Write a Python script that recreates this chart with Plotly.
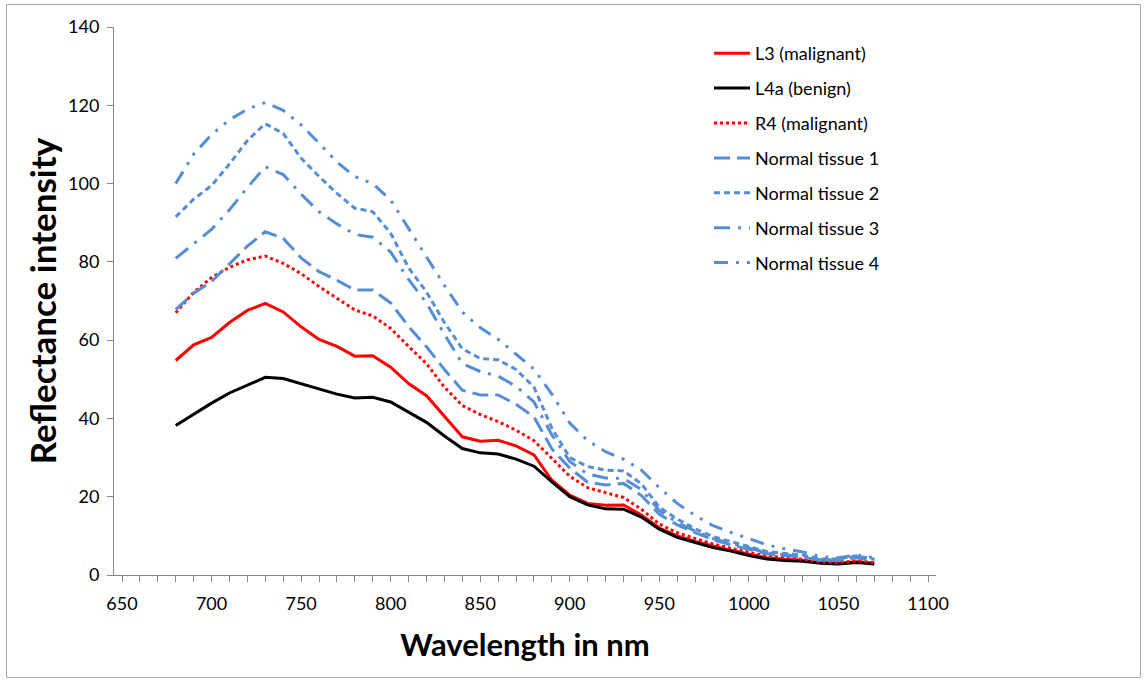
import plotly.graph_objects as go

wavelength = list(range(680, 1071, 10))

l3_malignant = [54.8, 58.8, 60.7, 64.5, 67.6, 69.4, 67.2, 63.4, 60.2, 58.4, 55.9, 56.0, 53.1, 48.9, 45.8, 40.5,
                35.3, 34.2, 34.4, 33.0, 30.7, 24.2, 20.4, 18.3, 17.8, 17.9, 15.3, 12.0, 10.0, 8.6, 7.4, 6.3,
                5.3, 4.4, 4.0, 3.8, 3.2, 3.0, 3.4, 3.0]
l4a_benign = [38.2, 41.1, 43.9, 46.5, 48.5, 50.5, 50.2, 48.8, 47.5, 46.2, 45.2, 45.4, 44.2, 41.6, 39.0, 35.5,
              32.3, 31.2, 30.9, 29.6, 27.8, 23.8, 20.0, 17.9, 16.9, 16.8, 14.8, 11.7, 9.6, 8.3, 7.0, 6.1,
              5.0, 4.1, 3.7, 3.5, 3.0, 2.8, 3.2, 2.8]
r4_malignant = [67.0, 72.2, 76.0, 78.6, 80.5, 81.5, 79.6, 77.0, 73.7, 70.7, 67.7, 66.2, 63.0, 58.4, 54.0, 48.0,
                43.3, 41.0, 39.2, 37.0, 34.3, 29.8, 25.2, 22.3, 21.0, 19.8, 16.8, 13.0, 10.8, 9.3, 7.9, 6.8,
                5.8, 4.8, 4.5, 4.0, 3.3, 3.2, 3.6, 3.2]
normal_1 = [67.8, 72.0, 75.0, 79.5, 84.0, 87.7, 86.0, 81.0, 77.5, 75.3, 72.8, 72.8, 69.5, 63.5, 58.3, 52.5,
            47.2, 46.0, 46.0, 43.6, 40.4, 32.2, 27.3, 23.7, 23.0, 23.4, 20.3, 15.5, 12.8, 10.8, 9.0, 7.7,
            6.6, 5.4, 5.0, 4.6, 3.7, 3.8, 4.4, 3.7]
normal_2 = [91.5, 96.0, 99.5, 105.0, 111.0, 115.3, 112.8, 106.5, 101.8, 97.5, 93.7, 92.8, 87.3, 78.5, 72.3, 64.5,
            57.8, 55.3, 55.0, 52.5, 48.0, 37.5, 30.0, 27.7, 26.8, 26.6, 23.3, 17.3, 14.3, 11.8, 9.8, 8.5,
            7.2, 6.0, 5.5, 5.1, 4.1, 4.1, 4.9, 4.1]
normal_3 = [80.9, 84.6, 88.3, 93.3, 99.0, 104.3, 102.3, 97.3, 92.8, 89.7, 87.0, 86.3, 82.5, 75.5, 69.5, 61.5,
            54.0, 52.0, 50.8, 48.2, 44.2, 35.8, 29.0, 25.8, 24.8, 24.7, 21.8, 16.5, 13.4, 11.2, 9.3, 8.1,
            6.9, 5.7, 5.2, 4.8, 3.9, 3.9, 4.6, 3.9]
normal_4 = [100.0, 107.5, 112.5, 116.3, 119.0, 120.7, 118.7, 115.0, 110.3, 105.5, 101.8, 100.0, 95.8, 88.5, 81.5, 74.0,
            67.2, 63.2, 60.2, 56.5, 52.6, 46.2, 38.8, 34.3, 31.5, 29.6, 26.8, 22.3, 18.3, 15.2, 12.6, 10.9,
            9.3, 7.7, 6.7, 5.9, 4.7, 4.4, 5.1, 4.4]

series_names = ["L3 (malignant)", "L4a (benign)", "R4 (malignant)",
                "Normal tissue 1", "Normal tissue 2", "Normal tissue 3", "Normal tissue 4"]
series_values = [l3_malignant, l4a_benign, r4_malignant, normal_1, normal_2, normal_3, normal_4]
series_colors = ["#FF0000", "#000000", "#FF0000", "#558ED5", "#558ED5", "#558ED5", "#558ED5"]
series_dash = ["solid", "solid", "dot", "16px,7px", "6px,4px", "16px,8px,3px,8px", "14px,8px,3px,8px,3px,8px"]

fig = go.Figure()
for i, (name, vals, col, dash) in enumerate(zip(series_names, series_values, series_colors, series_dash)):
    fig.add_trace(go.Scatter(
        x=wavelength, y=vals, mode="lines", name=name,
        line=dict(color=col, width=3, dash=dash),
        legendgroup=f"g{i}",
    ))

# Screen pixel layout (body margin removed in the page)
W, H = 1146, 681
L, R, T, B = 114, 936, 27, 575
px_per_nm = (928 - 122) / 450.0
xmin = 650 - (122 - L) / px_per_nm
xmax = 1100 + (R - 928) / px_per_nm

def px_x(p):
    return (p - L) / (R - L)

def px_y(p):
    return (B - p) / (B - T)

fig.add_shape(type="rect", xref="paper", yref="paper",
              x0=px_x(6.5), x1=px_x(1140.5), y0=px_y(677.5), y1=px_y(4.5),
              line=dict(color="#A6A6A6", width=1), fillcolor="rgba(0,0,0,0)", layer="below")

font_family = "Lato, 'Open Sans', sans-serif"

fig.update_layout(
    width=W, height=H,
    margin=dict(l=L, r=W - R, t=T, b=H - B, pad=0),
    paper_bgcolor="white", plot_bgcolor="white",
    font=dict(family=font_family, color="#000000", size=18),
    showlegend=True,
    legend=dict(
        x=px_x(709), y=px_y(35), xanchor="left", yanchor="top",
        font=dict(size=18, family=font_family, color="#000000"),
        tracegroupgap=8.5, bgcolor="rgba(0,0,0,0)", itemwidth=36,
    ),
    xaxis=dict(
        range=[xmin, xmax], tickmode="array",
        tickvals=list(range(650, 1101, 50)),
        ticks="outside", ticklen=6, tickcolor="#868686", tickwidth=1,
        minor=dict(tickmode="array", tickvals=list(range(650, 1101, 10)), ticks="outside",
                   ticklen=6, tickcolor="#868686", tickwidth=1),
        showline=True, linecolor="#868686", linewidth=1,
        showgrid=False, zeroline=False,
        ticklabelstandoff=6,
        tickfont=dict(size=18, family=font_family),
        title=dict(text="<b>Wavelength in nm</b>", font=dict(size=31, family=font_family), standoff=21),
    ),
    yaxis=dict(
        range=[0, 140], tickmode="array", tickvals=list(range(0, 141, 20)),
        ticks="outside", ticklen=6, tickcolor="#868686", tickwidth=1,
        showline=True, linecolor="#868686", linewidth=1,
        showgrid=False, zeroline=False,
        ticklabelstandoff=4,
        tickfont=dict(size=18, family=font_family),
        title=dict(text="<b>Reflectance intensity</b>", font=dict(size=35, family=font_family), standoff=0),
    ),
)

fig.write_html("out.html", config={"displayModeBar": False},
               post_script="document.body.style.margin='0px';")
